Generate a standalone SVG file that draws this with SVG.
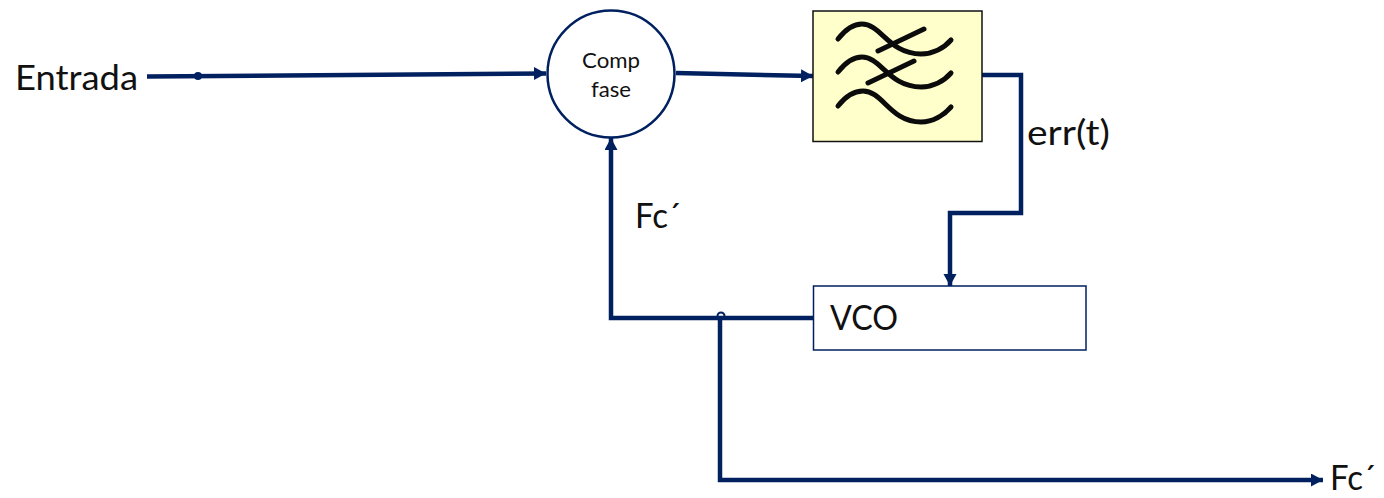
<svg xmlns="http://www.w3.org/2000/svg" width="1384" height="498" viewBox="0 0 1384 498">
<defs>
<style>
text{font-family:Lato,"Open Sans","Liberation Sans",sans-serif;fill:#111}
.l{font-size:35px}
.c{stroke:#002060;stroke-width:4.500;fill:none}
.w{stroke:#0b0b0b;stroke-width:5;fill:none;stroke-linecap:round}
</style>
<marker id="a" markerUnits="userSpaceOnUse" markerWidth="14" markerHeight="14" refX="12" refY="6.500" orient="auto"><path d="M0 0L12 6.500L0 13Z" fill="#002060"/></marker>
</defs>
<rect width="1384" height="498" fill="#fff"/>
<g id="connectors">
<path class="c" d="M147 76.500L546 73.500" marker-end="url(#a)"/>
<circle cx="198" cy="76" r="4" fill="#002060"/>
<path class="c" d="M676 73L813 76" marker-end="url(#a)"/>
<path class="c" d="M982 75H1021V213H950V286" marker-end="url(#a)"/>
<path class="c" d="M813 318H611V138" marker-end="url(#a)"/>
<path class="c" d="M720 318V480H1323" marker-end="url(#a)"/>
<path d="M717.500 316a3.500 3.500 0 0 1 7 0" fill="none" stroke="#002060" stroke-width="2"/>
</g>
<g id="comp">
<circle cx="611" cy="74" r="63.500" fill="#fff" stroke="#002060" stroke-width="2.500"/>
<text x="611" y="68" font-size="21" text-anchor="middle" textLength="58" lengthAdjust="spacingAndGlyphs">Comp</text>
<text x="611" y="97" font-size="21" text-anchor="middle" textLength="40" lengthAdjust="spacingAndGlyphs">fase</text>
</g>
<g id="filter">
<rect x="813" y="11" width="169" height="130.500" fill="#ffffcc" stroke="#111" stroke-width="1.500"/>
<path class="w" d="M838 39C845 30 853 24 862 24C881 24 889 54 921 54C933 54 944 48 951 40"/>
<path class="w" d="M878 51L924 29"/>
<path class="w" d="M838 72C845 63 853 57 862 57C881 57 889 87 921 87C933 87 944 81 951 73"/>
<path class="w" d="M868 83L914 61"/>
<path class="w" d="M838 106C845 97 853 91 863 91C883 91 890 122 921 122C933 122 944 115 951 107"/>
</g>
<g id="vco">
<rect x="813.500" y="286" width="272.500" height="64" fill="#fff" stroke="#002060" stroke-width="1.500"/>
<text class="l" x="830" y="330" textLength="68" lengthAdjust="spacingAndGlyphs">VCO</text>
</g>
<g id="labels">
<text class="l" x="15" y="90" textLength="123" lengthAdjust="spacingAndGlyphs">Entrada</text>
<text class="l" x="1027" y="145" textLength="83" lengthAdjust="spacingAndGlyphs">err(t)</text>
<text class="l" x="635" y="228" textLength="46" lengthAdjust="spacingAndGlyphs">Fc´</text>
<text class="l" x="1330" y="490" textLength="46" lengthAdjust="spacingAndGlyphs">Fc´</text>
</g>
</svg>
